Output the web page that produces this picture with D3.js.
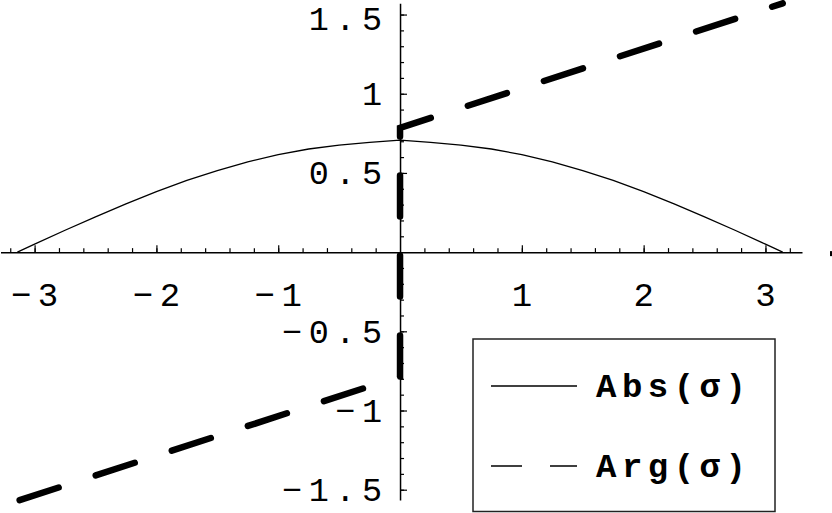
<!DOCTYPE html>
<html>
<head>
<meta charset="utf-8">
<script src="https://cdn.jsdelivr.net/npm/d3@7"></script>
<style>
  html, body { margin: 0; padding: 0; background: #fff; }
  svg { display: block; }
</style>
</head>
<body>
<svg id="chart" width="832" height="513"></svg>
<script>
// ---- data ----
const absX = [-3.1416, -3.0, -2.75, -2.5, -2.25, -2.0, -1.75, -1.5, -1.25, -1.0, -0.75, -0.5, -0.25, 0,
              0.25, 0.5, 0.75, 1.0, 1.25, 1.5, 1.75, 2.0, 2.25, 2.5, 2.75, 3.0, 3.1416];
const absY = [0, 0.050, 0.138, 0.223, 0.305, 0.382, 0.453, 0.515, 0.570, 0.616, 0.651, 0.676, 0.693, 0.707,
              0.693, 0.676, 0.651, 0.616, 0.570, 0.515, 0.453, 0.382, 0.305, 0.223, 0.138, 0.050, 0];
const argX = [-3.1416, 0, 0, 3.1416];
const argY = [-1.571, -0.785, 0.785, 1.571];
const xTickValues = [-3, -2, -1, 1, 2, 3];
const xTickLabels = ["−3", "−2", "−1", "1", "2", "3"];
const yTickValues = [-1.5, -1, -0.5, 0.5, 1, 1.5];
const yTickLabels = ["−1.5", "−1", "−0.5", "0.5", "1", "1.5"];
const legendLabels = ["Abs(σ)", "Arg(σ)"];

// ---- scales ----
const svg = d3.select("#chart");
const x = d3.scaleLinear().domain([-3.28, 3.3]).range([0.5, 802]);
const y = d3.scaleLinear().domain([-1.565, 1.571]).range([500, 3.3]);
const FONT = "'Liberation Mono', 'Courier New', monospace";

// ---- axes ----
const minorX = d3.range(-32, 33, 2).map(v => v / 10).filter(v => Math.abs(v) > 1e-9);
const minorY = d3.range(-15, 16, 1).map(v => v / 10).filter(v => Math.abs(v) > 1e-9);

const gx = svg.append("g").attr("transform", `translate(0,${y(0)})`);
gx.call(d3.axisTop(x).tickValues(minorX).tickSize(4).tickSizeOuter(0).tickFormat(""));
gx.append("g").call(d3.axisTop(x).tickValues(xTickValues).tickSize(7).tickSizeOuter(0).tickFormat(""));
gx.selectAll("path.domain").attr("stroke", "#000").attr("stroke-width", 1.5);
gx.selectAll(".tick line").attr("stroke", "#000").attr("stroke-width", 1.2);
gx.selectAll("g > g > path.domain").remove();

const gy = svg.append("g").attr("transform", `translate(${x(0)},0)`);
gy.call(d3.axisRight(y).tickValues(minorY).tickSize(4).tickSizeOuter(0).tickFormat(""));
gy.append("g").call(d3.axisRight(y).tickValues(yTickValues).tickSize(7).tickSizeOuter(0).tickFormat(""));
gy.selectAll("path.domain").attr("stroke", "#000").attr("stroke-width", 1.5);
gy.selectAll(".tick line").attr("stroke", "#000").attr("stroke-width", 1.2);
gy.selectAll("g > g > path.domain").remove();

// tick labels
const LS = 6.5;
svg.append("g").selectAll("text").data(xTickValues).join("text")
  .attr("x", d => x(d) + LS / 2)
  .attr("y", 306)
  .attr("text-anchor", "middle")
  .style("font-family", FONT).style("font-size", "34px").style("letter-spacing", LS + "px")
  .attr("fill", "#000")
  .text((d, i) => xTickLabels[i]);

svg.append("g").selectAll("text").data(yTickValues).join("text")
  .attr("x", 382 + LS)
  .attr("y", d => Math.max(y(d) + 11.5, 30))
  .attr("text-anchor", "end")
  .style("font-family", FONT).style("font-size", "33.5px").style("letter-spacing", LS + "px")
  .attr("fill", "#000")
  .text((d, i) => yTickLabels[i]);

// small mark at right edge
svg.append("rect").attr("x", 830).attr("y", y(0) - 1).attr("width", 2.5).attr("height", 5).attr("fill", "#000");

// ---- series ----
const absLine = d3.line().x(d => x(d[0])).y(d => y(d[1]));
svg.append("path")
  .attr("d", absLine(absX.map((v, i) => [v, absY[i]])))
  .attr("fill", "none").attr("stroke", "#000").attr("stroke-width", 1.3);

const argLine = d3.line().x(d => x(d[0])).y(d => y(d[1]));
const L1 = Math.hypot(x(argX[1]) - x(argX[0]), y(argY[1]) - y(argY[0]));
const PERIOD = 80;
svg.append("path")
  .attr("d", argLine(argX.map((v, i) => [v, argY[i]])))
  .attr("fill", "none").attr("stroke", "#000").attr("stroke-width", 6.5)
  .attr("stroke-linecap", "round").attr("stroke-linejoin", "miter")
  .attr("stroke-dasharray", "41 39")
  .attr("stroke-dashoffset", PERIOD - (L1 % PERIOD));

// ---- legend ----
const lg = svg.append("g");
lg.append("rect").attr("x", 473).attr("y", 339).attr("width", 302).attr("height", 172.5)
  .attr("fill", "#fff").attr("stroke", "#222").attr("stroke-width", 1.5);
const legendRows = [386, 466];
lg.selectAll("line.s").data(legendLabels).join("line")
  .attr("x1", 491).attr("x2", 577)
  .attr("y1", (d, i) => legendRows[i]).attr("y2", (d, i) => legendRows[i])
  .attr("stroke", "#000").attr("stroke-width", 1.5)
  .attr("stroke-dasharray", (d, i) => i === 1 ? "31 28" : null);
lg.selectAll("text").data(legendLabels).join("text")
  .attr("x", 596)
  .attr("y", (d, i) => legendRows[i] + 11)
  .style("font-family", FONT).style("font-size", "34px").style("font-weight", "bold")
  .style("letter-spacing", "5.5px")
  .attr("fill", "#000")
  .text(d => d);
</script>
</body>
</html>
